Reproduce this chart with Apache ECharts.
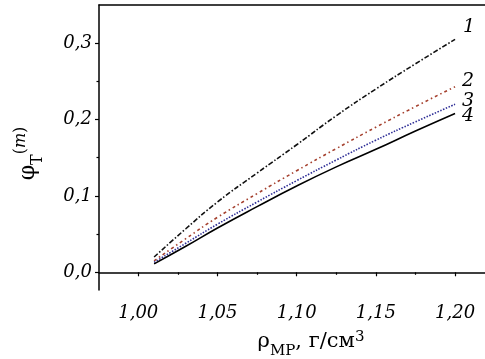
<!DOCTYPE html>
<html><head><meta charset="utf-8">
<script src="https://cdn.jsdelivr.net/npm/echarts@6/dist/echarts.min.js"></script>
<style>html,body{margin:0;padding:0;background:#fff}#c{width:485px;height:359px}</style>
</head><body><div id="c"></div>
<script>
const xValues = [1.01, 1.03, 1.05, 1.075, 1.10, 1.125, 1.15, 1.175, 1.20];
const curve1 = [0.020, 0.057, 0.092, 0.130, 0.167, 0.205, 0.240, 0.273, 0.305];
const curve2 = [0.015, 0.044, 0.072, 0.103, 0.133, 0.162, 0.190, 0.217, 0.243];
const curve3 = [0.013, 0.038, 0.063, 0.092, 0.120, 0.147, 0.173, 0.197, 0.220];
const curve4 = [0.011, 0.034, 0.058, 0.086, 0.113, 0.138, 0.161, 0.185, 0.208];
const seriesNames = ['1', '2', '3', '4'];
const xTickLabels = [1.00, 1.05, 1.10, 1.15, 1.20];
const xMinorTicks = [1.025, 1.075, 1.125, 1.175];
const yTickLabels = [0.0, 0.1, 0.2, 0.3];
const yMinorTicks = [0.05, 0.15, 0.25];

const serif = 'DejaVu Serif';
const pair = ys => xValues.map((x, i) => [x, ys[i]]);
const styles = [
  {color: '#111', type: [5, 2, 1.5, 2], off: [0, -12]},
  {color: '#a5402e', type: [3, 3, 1.5, 3], off: [-1, -6]},
  {color: '#2d2d96', type: [1.5, 1.5], off: [-1, -3]},
  {color: '#000', type: 'solid', off: [-1, 3]}
];
const data = [curve1, curve2, curve3, curve4];
const XMIN = 0.9752, XMAX = 1.2189, YMIN = -0.0232, YMAX = 0.350;
const axisLine = {show: true, lineStyle: {color: '#000', width: 1.5}};

const chart = echarts.init(document.getElementById('c'), null, {renderer: 'canvas'});
chart.setOption({
  animation: false,
  grid: {left: 99, right: 0, top: 5, bottom: 69, containLabel: false, outerBoundsMode: 'none'},
  xAxis: [
    {type: 'value', min: XMIN, max: XMAX, position: 'bottom',
     axisLine: axisLine, splitLine: {show: false},
     axisTick: {show: true, customValues: xTickLabels, length: 4, lineStyle: {color: '#000', width: 1.2}},
     axisLabel: {customValues: xTickLabels, margin: 14, fontFamily: serif, fontStyle: 'italic', fontSize: 18, color: '#000',
                 formatter: v => v.toFixed(2).replace('.', ',')},
     name: '{r|ρ}{s|MP}{r|, г/см}{p|3}', nameLocation: 'middle', nameGap: 38,
     nameTextStyle: {padding: [0, 0, 0, 38], rich: {
       r: {fontFamily: serif, fontSize: 21, color: '#000', lineHeight: 28},
       s: {fontFamily: serif, fontSize: 15, color: '#000', verticalAlign: 'bottom', lineHeight: 28, padding: [0, 0, -3, 0]},
       p: {fontFamily: serif, fontSize: 15, color: '#000', verticalAlign: 'top', lineHeight: 28, padding: [2, 0, 0, 0]}
     }}},
    {type: 'value', min: XMIN, max: XMAX, position: 'bottom', gridIndex: 0,
     axisLine: {show: false}, splitLine: {show: false}, axisLabel: {show: false},
     axisTick: {show: true, customValues: xMinorTicks, length: 2.5, lineStyle: {color: '#000', width: 1.2}}},
    {type: 'value', min: XMIN, max: XMAX, position: 'top', gridIndex: 0,
     axisLine: axisLine, splitLine: {show: false}, axisLabel: {show: false}, axisTick: {show: false}}
  ],
  yAxis: [
    {type: 'value', min: YMIN, max: YMAX, position: 'left',
     axisLine: axisLine, splitLine: {show: false},
     axisTick: {show: true, customValues: yTickLabels, length: 4, lineStyle: {color: '#000', width: 1.2}},
     axisLabel: {customValues: yTickLabels, margin: 7, fontFamily: serif, fontStyle: 'italic', fontSize: 18, color: '#000',
                 formatter: v => v.toFixed(1).replace('.', ',')},
     name: '{r|φ}{s|T}{p|(}{i|m}{p|)}', nameLocation: 'middle', nameGap: 56, nameRotate: 90,
     nameTextStyle: {padding: [0, 12, 0, 0], rich: {
       r: {fontFamily: serif, fontSize: 22, color: '#000', lineHeight: 30},
       s: {fontFamily: serif, fontSize: 16, color: '#000', verticalAlign: 'bottom', lineHeight: 30, padding: [0, 0, -3, 0]},
       p: {fontFamily: serif, fontSize: 16, color: '#000', verticalAlign: 'top', lineHeight: 30},
       i: {fontFamily: serif, fontStyle: 'italic', fontSize: 16, color: '#000', verticalAlign: 'top', lineHeight: 30}
     }}},
    {type: 'value', min: YMIN, max: YMAX, position: 'left', gridIndex: 0,
     axisLine: {show: false}, splitLine: {show: false}, axisLabel: {show: false},
     axisTick: {show: true, customValues: yMinorTicks, length: 2.5, lineStyle: {color: '#000', width: 1.2}}}
  ],
  series: data.map((ys, i) => ({
    type: 'line', name: seriesNames[i], data: pair(ys), smooth: true, symbol: 'none',
    xAxisIndex: 0, yAxisIndex: 0,
    lineStyle: {color: styles[i].color, width: 1.6, type: styles[i].type},
    endLabel: {show: true, formatter: seriesNames[i], offset: styles[i].off,
      fontFamily: serif, fontStyle: 'italic', fontSize: 19, color: '#000'}
  }))
});
</script></body></html>
